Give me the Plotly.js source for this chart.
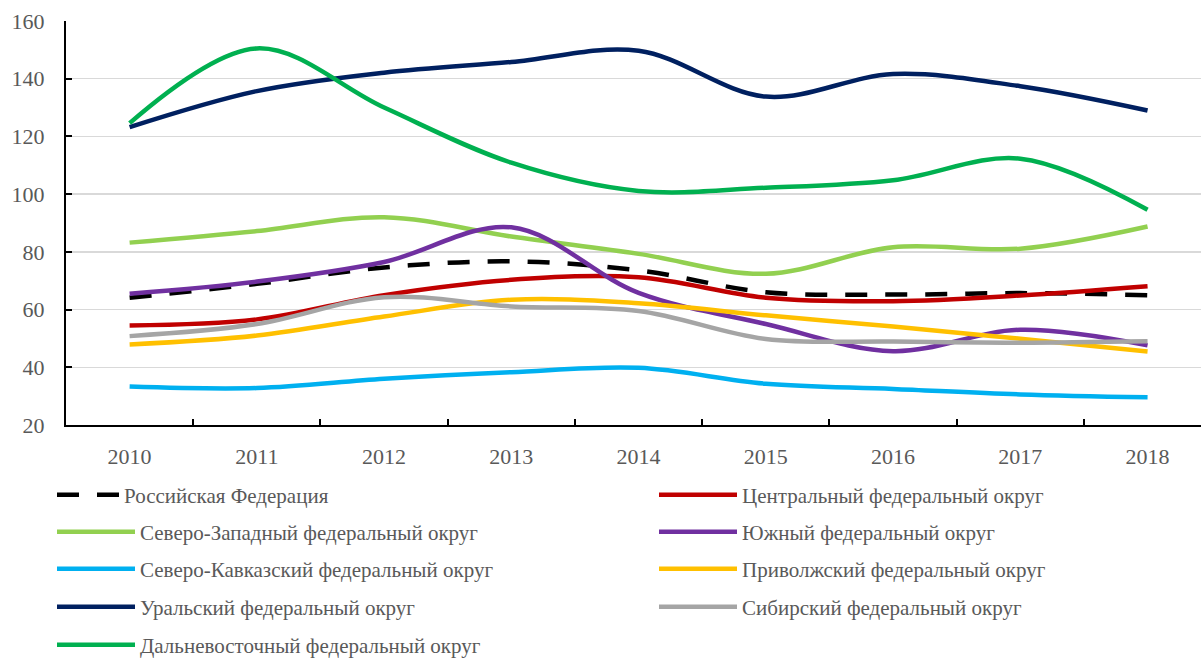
<!DOCTYPE html>
<html>
<head>
<meta charset="utf-8">
<script src="https://cdn.plot.ly/plotly-3.0.1.min.js"></script>
<style>html,body{margin:0;padding:0;background:#fff;}#chart{width:1201px;height:659px;}</style>
</head>
<body>
<div id="chart"></div>
<script>
// ---- data ----
const years = ['2010', '2011', '2012', '2013', '2014', '2015', '2016', '2017', '2018'];
const seriesNames = [
  'Российская Федерация',
  'Центральный федеральный округ',
  'Северо-Западный федеральный округ',
  'Южный федеральный округ',
  'Северо-Кавказский федеральный округ',
  'Приволжский федеральный округ',
  'Уральский федеральный округ',
  'Сибирский федеральный округ',
  'Дальневосточный федеральный округ'
];
const russia      = [64.1, 68.9, 74.6, 76.7, 73.6, 66.0, 65.2, 65.7, 65.0];
const central     = [54.5, 56.6, 65.0, 70.3, 71.2, 64.1, 62.9, 64.9, 68.1];
const northwest   = [83.2, 87.2, 92.0, 85.3, 79.3, 72.4, 81.6, 81.1, 88.8];
const southern    = [65.5, 69.7, 76.5, 88.5, 65.8, 55.0, 45.6, 53.0, 47.6];
const ncaucasus   = [33.3, 32.8, 36.0, 38.3, 39.8, 34.3, 32.5, 30.6, 29.6];
const volga       = [47.9, 51.0, 57.6, 63.4, 62.2, 58.0, 54.1, 49.9, 45.5];
const ural        = [123.2, 135.7, 142.1, 145.8, 149.7, 133.8, 141.6, 137.4, 129.0];
const siberian    = [50.8, 55.0, 64.3, 61.1, 59.5, 49.8, 48.9, 48.5, 49.0];
const fareast     = [124.6, 150.5, 130.0, 110.9, 101.1, 102.2, 104.8, 112.3, 94.6];
const seriesValues = [russia, central, northwest, southern, ncaucasus, volga, ural, siberian, fareast];

// ---- styles ----
const colors = ['#000000', '#c00000', '#92d050', '#7030a0', '#00b0f0', '#ffc000', '#002060', '#a5a5a5', '#00b050'];
const FONT = 'Liberation Serif, Times New Roman, serif';
const TXT = '#595959';
const W = 1201, H = 659, ML = 66, MR = 0, MT = 21, MB = 234;
// legend slot positions (pixels in the figure): [x of item start, y centre]
const legendSlots = [
  [52, 495], [654, 495],
  [52, 532], [654, 532],
  [52, 569], [654, 569],
  [52, 607], [654, 607],
  [52, 645]
];

const traces = seriesValues.map((vals, i) => ({
  type: 'scatter',
  mode: 'lines',
  x: years,
  y: vals,
  name: seriesNames[i],
  legend: i === 0 ? 'legend' : 'legend' + (i + 1),
  line: {
    color: colors[i],
    width: 4.5,
    shape: 'spline',
    smoothing: 1,
    dash: i === 0 ? '22px,18px' : 'solid'
  },
  hoverinfo: 'skip'
}));

const layout = {
  width: W, height: H,
  autosize: false,
  margin: {l: ML, r: MR, t: MT, b: MB, pad: 0, autoexpand: false},
  paper_bgcolor: '#ffffff',
  plot_bgcolor: '#ffffff',
  showlegend: true,
  font: {family: FONT, size: 22, color: TXT},
  xaxis: {
    type: 'category',
    range: [-0.5, 8.42],
    tickson: 'boundaries',
    ticks: 'inside', ticklen: 6, tickwidth: 2, tickcolor: '#000',
    showline: true, linecolor: '#000', linewidth: 2,
    showgrid: false, zeroline: false,
    tickfont: {family: FONT, size: 22, color: TXT},
    ticklabelstandoff: 11,
    fixedrange: true
  },
  yaxis: {
    range: [20, 160],
    dtick: 20, tick0: 20,
    ticks: 'inside', ticklen: 6, tickwidth: 2, tickcolor: '#000',
    showline: true, linecolor: '#000', linewidth: 2,
    showgrid: true, gridcolor: '#d9d9d9', gridwidth: 1.5,
    zeroline: false,
    tickfont: {family: FONT, size: 22, color: TXT},
    ticklabelstandoff: 15,
    fixedrange: true
  }
};

legendSlots.forEach((slot, i) => {
  const key = i === 0 ? 'legend' : 'legend' + (i + 1);
  layout[key] = {
    xref: 'container', yref: 'container',
    x: slot[0] / W,
    y: 1 - slot[1] / H,
    xanchor: 'left', yanchor: 'middle',
    orientation: 'v',
    bgcolor: 'rgba(0,0,0,0)',
    borderwidth: 0,
    itemwidth: i === 0 ? 62 : 78,
    font: {family: FONT, size: 21, color: TXT},
    itemclick: false, itemdoubleclick: false
  };
});

Plotly.newPlot('chart', traces, layout, {displayModeBar: false, staticPlot: true});
</script>
</body>
</html>
